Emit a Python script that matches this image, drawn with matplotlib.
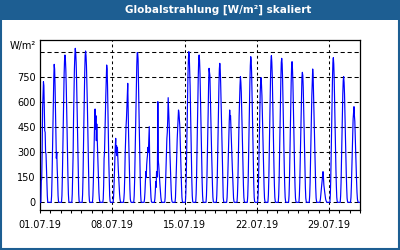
import numpy as np
import pandas as pd
import matplotlib
matplotlib.use('Agg')
import matplotlib.pyplot as plt
import matplotlib.dates as mdates
from matplotlib.patches import Rectangle

TITLE = 'Globalstrahlung [W/m²] skaliert'
UNIT = 'W/m²'
START = '2019-07-01'
# hours (UTC) of the values given for each day, the rest of the day is 0
DAY_HOURS = list(range(3, 20))
# global radiation W/m2, one row per day 01.07. - 31.07.
DAYS = [
    [130, 140, 300, 560, 640, 724, 700, 560, 430, 420, 300, 290, 200, 120, 40, 0, 0],
    [40, 150, 294, 440, 600, 740, 828, 800, 700, 560, 420, 264, 300, 200, 134, 40, 5],
    [40, 150, 300, 460, 620, 760, 850, 884, 860, 800, 700, 560, 440, 300, 150, 50, 5],
    [50, 160, 284, 500, 660, 800, 880, 924, 900, 840, 740, 600, 440, 300, 160, 50, 5],
    [45, 150, 300, 480, 640, 780, 880, 908, 880, 820, 720, 600, 460, 300, 150, 45, 5],
    [40, 120, 250, 380, 480, 560, 440, 520, 370, 470, 380, 300, 220, 140, 60, 20, 5],
    [20, 100, 264, 300, 424, 520, 640, 740, 824, 800, 700, 540, 380, 240, 130, 40, 5],
    [30, 90, 170, 264, 334, 384, 300, 340, 280, 330, 260, 200, 150, 100, 50, 20, 5],
    [20, 60, 150, 284, 380, 454, 500, 564, 640, 714, 554, 400, 284, 180, 80, 20, 5],
    [40, 130, 270, 430, 580, 720, 820, 898, 898, 860, 700, 564, 420, 280, 150, 50, 5],
    [20, 60, 120, 184, 150, 224, 260, 284, 330, 300, 380, 454, 250, 144, 80, 30, 5],
    [20, 60, 124, 90, 184, 150, 200, 604, 250, 224, 180, 140, 100, 60, 30, 10, 0],
    [30, 120, 200, 300, 384, 420, 500, 628, 560, 480, 420, 300, 220, 140, 70, 20, 5],
    [30, 110, 200, 300, 380, 440, 500, 554, 540, 500, 460, 380, 280, 180, 100, 30, 5],
    [50, 150, 300, 470, 620, 760, 860, 904, 880, 800, 700, 560, 400, 260, 130, 40, 5],
    [50, 150, 300, 470, 620, 760, 860, 884, 850, 770, 640, 500, 360, 230, 120, 40, 5],
    [40, 130, 260, 384, 540, 704, 804, 784, 760, 640, 524, 420, 300, 200, 100, 30, 5],
    [40, 130, 260, 410, 560, 700, 800, 834, 800, 720, 600, 480, 340, 220, 110, 30, 5],
    [30, 100, 200, 300, 400, 484, 554, 500, 520, 440, 380, 300, 220, 150, 80, 25, 5],
    [40, 120, 240, 380, 520, 620, 700, 754, 720, 660, 560, 440, 320, 200, 100, 30, 5],
    [40, 130, 270, 430, 590, 720, 820, 874, 850, 780, 640, 500, 360, 230, 110, 30, 5],
    [40, 120, 250, 400, 540, 660, 724, 748, 704, 640, 540, 420, 300, 190, 90, 25, 5],
    [45, 140, 290, 450, 610, 750, 850, 880, 840, 760, 620, 480, 340, 210, 100, 30, 5],
    [45, 140, 280, 440, 600, 740, 840, 864, 830, 740, 600, 450, 320, 200, 100, 30, 5],
    [40, 130, 270, 430, 590, 720, 820, 844, 800, 720, 580, 440, 310, 190, 90, 25, 5],
    [40, 120, 250, 400, 540, 660, 750, 780, 760, 690, 570, 430, 300, 180, 90, 25, 5],
    [40, 120, 250, 390, 520, 640, 724, 800, 760, 644, 540, 410, 290, 180, 90, 25, 5],
    [5, 20, 50, 80, 104, 130, 154, 184, 150, 104, 80, 60, 40, 20, 10, 5, 0],
    [45, 140, 290, 450, 600, 740, 840, 868, 830, 740, 600, 450, 320, 200, 100, 30, 5],
    [40, 120, 250, 400, 540, 650, 730, 754, 720, 650, 540, 410, 290, 180, 90, 25, 5],
    [30, 100, 200, 320, 420, 500, 540, 574, 520, 484, 400, 300, 210, 130, 60, 20, 5],
]
Y_TICKS = [0, 150, 300, 450, 600, 750]
Y_GRID = [0, 150, 300, 450, 600, 750, 900]
X_LABEL_DAYS = ['2019-07-01', '2019-07-08', '2019-07-15', '2019-07-22', '2019-07-29']

BLUE_FRAME = '#1d5e92'

# hourly series, night hours are 0
values = np.zeros((len(DAYS), 24))
for i, row in enumerate(DAYS):
    values[i, DAY_HOURS] = row
times = pd.date_range(START, periods=values.size, freq='h')
series = pd.Series(values.ravel(), index=times)

fig = plt.figure(figsize=(4, 2.5), dpi=100)
ax = fig.add_axes([0.1, 0.16, 0.8, 0.68])

ax.plot(series.index, series.values, color='#0000ff', linewidth=0.85, zorder=3)

# grid
for y in Y_GRID:
    ax.axhline(y, color='black', linewidth=0.75, linestyle=(0, (4, 2.7)), zorder=2)
for d in X_LABEL_DAYS[1:]:
    ax.axvline(pd.Timestamp(d), color='black', linewidth=0.75, linestyle=(0, (2.7, 2.7)), zorder=2)

ax.set_xlim(pd.Timestamp(START), pd.Timestamp('2019-08-01'))
ax.set_ylim(-46, 974)
ax.set_yticks(Y_TICKS)
ax.tick_params(axis='y', length=0, pad=3, labelsize=7)
ax.set_xticks([pd.Timestamp(d) for d in X_LABEL_DAYS])
ax.xaxis.set_major_formatter(mdates.DateFormatter('%d.%m.%y'))
ax.xaxis.set_minor_locator(mdates.DayLocator())
ax.tick_params(axis='x', which='both', direction='out', length=2.5, width=0.75, labelsize=7, pad=5)
for s in ax.spines.values():
    s.set_linewidth(0.9)

# unit label in place of the top tick
fig.text(0.09, 0.816, UNIT, fontsize=7, ha='right', va='center')

# window like frame with title bar
fig.patches.append(Rectangle((0, 1 - 20 / 250), 1, 20 / 250, transform=fig.transFigure,
                             facecolor=BLUE_FRAME, edgecolor='none', zorder=0))
fig.patches.append(Rectangle((0.002, 0.004), 0.996, 0.994, transform=fig.transFigure,
                             facecolor='none', edgecolor=BLUE_FRAME, linewidth=1.5, zorder=1))
fig.text(218 / 400, 1 - 10 / 250, TITLE, color='white', fontsize=7.5, fontweight='bold',
         ha='center', va='center')

fig.savefig('out.png', dpi=100)
